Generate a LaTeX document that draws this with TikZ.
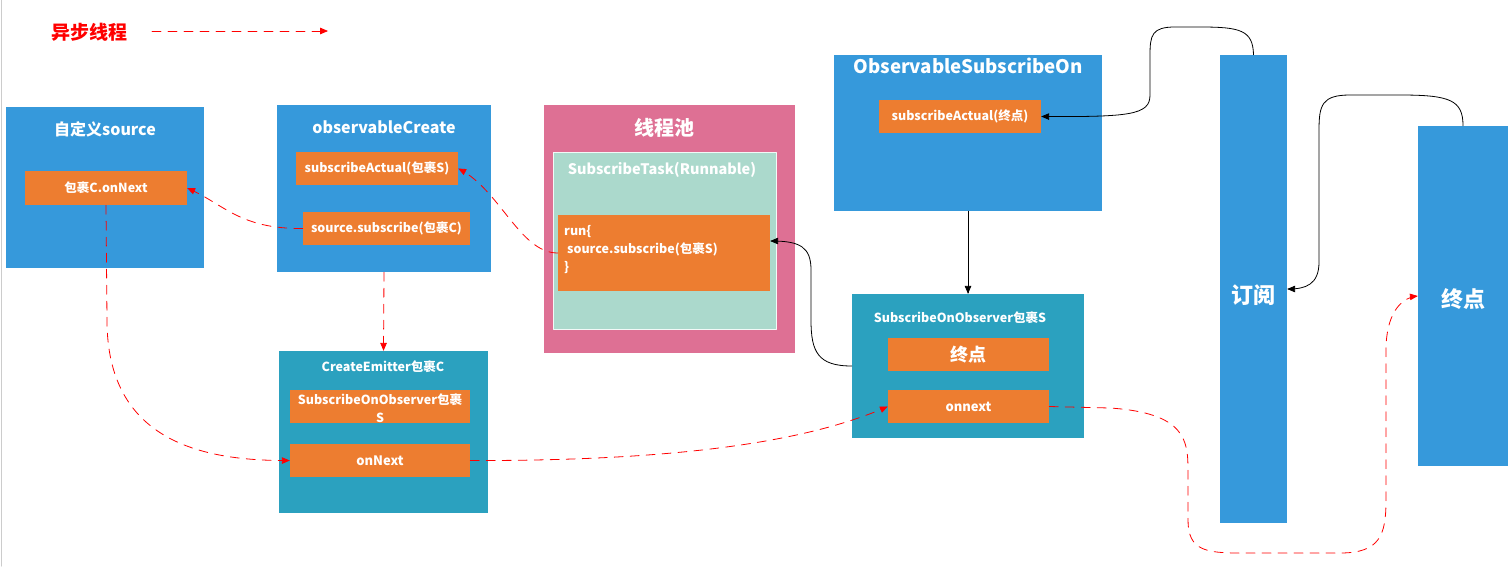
\documentclass[tikz,border=0pt]{standalone}
\usepackage{fontspec}
\setmainfont{Noto Sans CJK SC}
\usetikzlibrary{arrows}
\definecolor{tvzydb}{rgb}{0.21,0.6,0.86}
\definecolor{edxdtr}{rgb}{0.93,0.49,0.19}
\definecolor{ddxqzu}{rgb}{0.87,0.44,0.58}
\definecolor{szasbe}{rgb}{0.17,0.63,0.75}
\definecolor{abdzcb}{rgb}{0.67,0.85,0.8}
\definecolor{ffqqqq}{rgb}{1,0,0}
\begin{document}
\begin{tikzpicture}[line cap=round,line join=round,>=triangle 45,x=1pt,y=-1pt,
  box/.style={rectangle,draw=none,inner sep=0},
  lbl/.style={text=white,inner sep=0,font=\bfseries\fontsize{12.5}{18}\selectfont},
  ttl/.style={text=white,inner sep=0,font=\bfseries\fontsize{16}{18}\selectfont},
  blk/.style={->,color=black,line width=0.8pt},
  rd/.style={->,color=ffqqqq,line width=0.8pt,dash pattern=on 9pt off 7pt}]
\fill[white] (0,0) rectangle (1511,566);
\useasboundingbox (0,0) rectangle (1511,566);
\draw[color=black!20,line width=1pt] (1.5,0) -- (1.5,566);
\node[inner sep=0,text=ffqqqq,font=\bfseries\fontsize{19}{21}\selectfont] (leg) at (89,32) {异步线程};
\coordinate (l1) at (152,31);
\coordinate (l2) at (328,31);
\draw[rd] (l1) -- (l2);
\node[box,fill=tvzydb,minimum width=198pt,minimum height=161pt] (src) at (105,187.5) {};
\node[ttl] (srcT) at (105,129) {自定义source};
\node[box,fill=edxdtr,minimum width=162pt,minimum height=34pt] (srcN) at (106,188) {};
\node[lbl] at (srcN) {包裹C.onNext};
\node[box,fill=tvzydb,minimum width=214pt,minimum height=167pt] (oc) at (384,188.5) {};
\node[ttl] (ocT) at (384,127) {observableCreate};
\node[box,fill=edxdtr,minimum width=162pt,minimum height=33pt] (ocA) at (377,168.5) {};
\node[lbl] at (ocA) {subscribeActual(包裹S)};
\node[box,fill=edxdtr,minimum width=167pt,minimum height=33pt] (ocS) at (386.5,228.5) {};
\node[lbl] at (ocS) {source.subscribe(包裹C)};
\node[box,fill=ddxqzu,minimum width=251pt,minimum height=248pt] (pool) at (669.5,229) {};
\node[ttl,font=\bfseries\fontsize{20}{22}\selectfont] (poolT) at (664,128) {线程池};
\node[box,fill=abdzcb,draw=white!85!abdzcb,line width=1pt,minimum width=223pt,minimum height=177pt] (task) at (664.5,240.5) {};
\node[ttl,font=\bfseries\fontsize{14.5}{16}\selectfont] (taskT) at (662,170) {SubscribeTask(Runnable)};
\node[box,fill=edxdtr,minimum width=212pt,minimum height=76pt] (run) at (664,253) {};
\node[lbl,anchor=west,align=left] (runT) at (564,249.5) {run\{\\\hspace{3pt}source.subscribe(包裹S)\\\}};
\node[box,fill=tvzydb,minimum width=268pt,minimum height=156pt] (oso) at (968,133) {};
\node[ttl,font=\bfseries\fontsize{18.7}{20}\selectfont] (osoT) at (968,66) {ObservableSubscribeOn};
\node[box,fill=edxdtr,minimum width=162pt,minimum height=33pt] (osoA) at (960,116.5) {};
\node[lbl] at (osoA) {subscribeActual(终点)};
\node[box,fill=szasbe,minimum width=232pt,minimum height=144pt] (soo) at (968,366) {};
\node[lbl] (sooT) at (960,318) {SubscribeOnObserver包裹S};
\node[box,fill=edxdtr,minimum width=161pt,minimum height=33pt] (sooE) at (968.5,354.5) {};
\node[lbl,font=\bfseries\fontsize{18}{20}\selectfont] at (sooE) {终点};
\node[box,fill=edxdtr,minimum width=161pt,minimum height=33pt] (sooN) at (968.5,406.5) {};
\node[lbl,font=\bfseries\fontsize{13}{15}\selectfont] at (sooN) {onnext};
\node[box,fill=szasbe,minimum width=209pt,minimum height=162pt] (ce) at (383.5,432) {};
\node[lbl] (ceT) at (383,367) {CreateEmitter包裹C};
\node[box,fill=edxdtr,minimum width=180pt,minimum height=33pt] (ceS) at (380,406.5) {};
\node[lbl,align=center] at (380,408.5) {SubscribeOnObserver包裹\\S};
\node[box,fill=edxdtr,minimum width=180pt,minimum height=33pt] (ceN) at (380,460.5) {};
\node[lbl,font=\bfseries\fontsize{13}{15}\selectfont] at (ceN) {onNext};
\node[box,fill=tvzydb,minimum width=67pt,minimum height=468pt] (sub) at (1253.5,289) {};
\node[ttl,font=\bfseries\fontsize{22}{24}\selectfont] at (1253,295) {订阅};
\node[box,fill=tvzydb,minimum width=90pt,minimum height=340pt] (end) at (1463,296) {};
\node[ttl,font=\bfseries\fontsize{22}{24}\selectfont] at (1463,299) {终点};
\draw[blk] (sub.north) .. controls (1253,30) and (1240,27) .. (1200,27) -- (1175,27) .. controls (1152,27) and (1150,35) .. (1150,55) -- (1150,95) .. controls (1150,115) and (1130,117) .. (osoA.east);
\draw[blk] (end.north) .. controls (1463,100) and (1450,95) .. (1400,95) -- (1350,95) .. controls (1322,95) and (1319,105) .. (1319,130) -- (1319,262) .. controls (1319,285) and (1305,289) .. (sub.east);
\draw[blk] (oso.south) -- (soo.north);
\draw[blk] (soo.west) .. controls (818,366) and (811,352) .. (811,320) -- (811,270) .. controls (811,247) and (800,241) .. ([yshift=12pt]run.east);
\draw[rd] (ocS.west) .. controls (240,229) and (225,205) .. (srcN.east);
\draw[rd] (run.west) .. controls (520,253) and (500,190) .. (ocA.east);
\draw[rd] (oc.south) -- (ce.north);
\draw[rd] (srcN.south) -- (107,320) .. controls (107,440) and (200,461) .. (ceN.west);
\draw[rd] (ceN.east) .. controls (660,461) and (800,445) .. (sooN.west);
\draw[rd] (sooN.east) -- (1110,408) .. controls (1185,413) and (1188,440) .. (1188,470) -- (1188,520) .. controls (1188,550) and (1205,553) .. (1240,553) -- (1340,553) .. controls (1380,553) and (1386,535) .. (1386,500) -- (1386,350) .. controls (1386,315) and (1400,298) .. (end.west);
\end{tikzpicture}
\end{document}
